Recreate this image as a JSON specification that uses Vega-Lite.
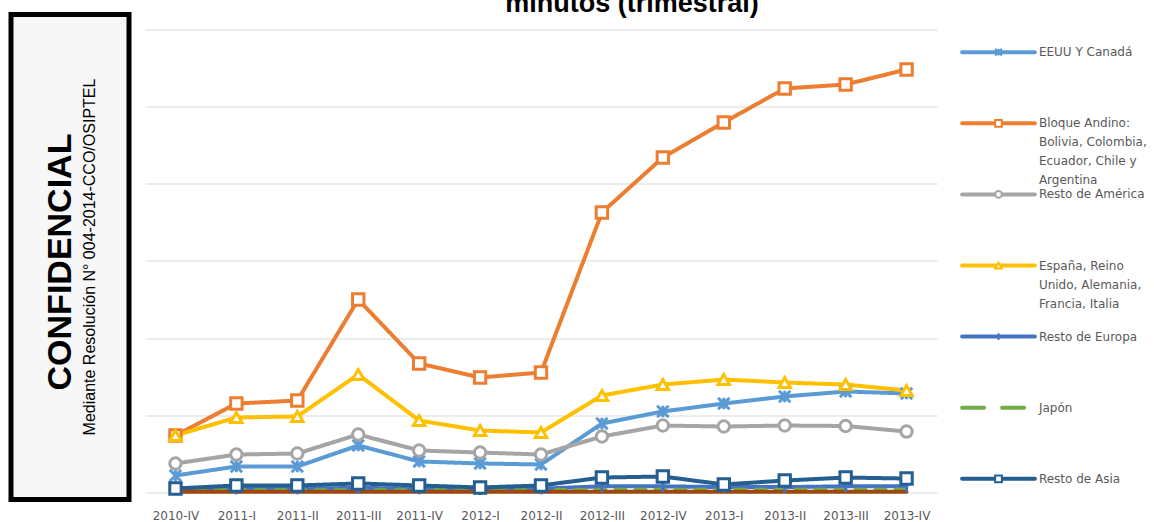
{
  "$schema": "https://vega.github.io/schema/vega-lite/v6.json",
  "background": "white",
  "padding": {"left": 8, "top": -10.5, "right": 0, "bottom": 0},
  "bounds": "flush",
  "spacing": 16,
  "config": {"view": {"stroke": null}, "font": "DejaVu Sans"},
  "resolve": {"scale": {"strokeDash": "independent", "size": "independent"}},
  "datasets": {
    "traffic": [
      {"q": "2010-IV", "serie": "EEUU Y Canadá", "v": 2.2},
      {"q": "2011-I", "serie": "EEUU Y Canadá", "v": 3.37},
      {"q": "2011-II", "serie": "EEUU Y Canadá", "v": 3.37},
      {"q": "2011-III", "serie": "EEUU Y Canadá", "v": 6.09},
      {"q": "2011-IV", "serie": "EEUU Y Canadá", "v": 4.02},
      {"q": "2012-I", "serie": "EEUU Y Canadá", "v": 3.76},
      {"q": "2012-II", "serie": "EEUU Y Canadá", "v": 3.63},
      {"q": "2012-III", "serie": "EEUU Y Canadá", "v": 8.94},
      {"q": "2012-IV", "serie": "EEUU Y Canadá", "v": 10.5},
      {"q": "2013-I", "serie": "EEUU Y Canadá", "v": 11.53},
      {"q": "2013-II", "serie": "EEUU Y Canadá", "v": 12.44},
      {"q": "2013-III", "serie": "EEUU Y Canadá", "v": 13.09},
      {"q": "2013-IV", "serie": "EEUU Y Canadá", "v": 12.83},
      {"q": "2010-IV", "serie": "Bloque Andino", "v": 7.39},
      {"q": "2011-I", "serie": "Bloque Andino", "v": 11.53},
      {"q": "2011-II", "serie": "Bloque Andino", "v": 11.92},
      {"q": "2011-III", "serie": "Bloque Andino", "v": 25.01},
      {"q": "2011-IV", "serie": "Bloque Andino", "v": 16.72},
      {"q": "2012-I", "serie": "Bloque Andino", "v": 14.9},
      {"q": "2012-II", "serie": "Bloque Andino", "v": 15.55},
      {"q": "2012-III", "serie": "Bloque Andino", "v": 36.28},
      {"q": "2012-IV", "serie": "Bloque Andino", "v": 43.41},
      {"q": "2013-I", "serie": "Bloque Andino", "v": 47.95},
      {"q": "2013-II", "serie": "Bloque Andino", "v": 52.35},
      {"q": "2013-III", "serie": "Bloque Andino", "v": 52.87},
      {"q": "2013-IV", "serie": "Bloque Andino", "v": 54.81},
      {"q": "2010-IV", "serie": "Resto de América", "v": 3.76},
      {"q": "2011-I", "serie": "Resto de América", "v": 4.92},
      {"q": "2011-II", "serie": "Resto de América", "v": 5.05},
      {"q": "2011-III", "serie": "Resto de América", "v": 7.52},
      {"q": "2011-IV", "serie": "Resto de América", "v": 5.44},
      {"q": "2012-I", "serie": "Resto de América", "v": 5.18},
      {"q": "2012-II", "serie": "Resto de América", "v": 4.92},
      {"q": "2012-III", "serie": "Resto de América", "v": 7.26},
      {"q": "2012-IV", "serie": "Resto de América", "v": 8.68},
      {"q": "2013-I", "serie": "Resto de América", "v": 8.55},
      {"q": "2013-II", "serie": "Resto de América", "v": 8.68},
      {"q": "2013-III", "serie": "Resto de América", "v": 8.62},
      {"q": "2013-IV", "serie": "Resto de América", "v": 7.9},
      {"q": "2010-IV", "serie": "España", "v": 7.39},
      {"q": "2011-I", "serie": "España", "v": 9.72},
      {"q": "2011-II", "serie": "España", "v": 9.85},
      {"q": "2011-III", "serie": "España", "v": 15.29},
      {"q": "2011-IV", "serie": "España", "v": 9.33},
      {"q": "2012-I", "serie": "España", "v": 8.03},
      {"q": "2012-II", "serie": "España", "v": 7.78},
      {"q": "2012-III", "serie": "España", "v": 12.57},
      {"q": "2012-IV", "serie": "España", "v": 13.99},
      {"q": "2013-I", "serie": "España", "v": 14.64},
      {"q": "2013-II", "serie": "España", "v": 14.25},
      {"q": "2013-III", "serie": "España", "v": 13.99},
      {"q": "2013-IV", "serie": "España", "v": 13.22},
      {"q": "2010-IV", "serie": "Resto de Europa", "v": 0.4},
      {"q": "2011-I", "serie": "Resto de Europa", "v": 0.5},
      {"q": "2011-II", "serie": "Resto de Europa", "v": 0.5},
      {"q": "2011-III", "serie": "Resto de Europa", "v": 0.6},
      {"q": "2011-IV", "serie": "Resto de Europa", "v": 0.5},
      {"q": "2012-I", "serie": "Resto de Europa", "v": 0.4},
      {"q": "2012-II", "serie": "Resto de Europa", "v": 0.5},
      {"q": "2012-III", "serie": "Resto de Europa", "v": 0.8},
      {"q": "2012-IV", "serie": "Resto de Europa", "v": 0.8},
      {"q": "2013-I", "serie": "Resto de Europa", "v": 0.7},
      {"q": "2013-II", "serie": "Resto de Europa", "v": 0.7},
      {"q": "2013-III", "serie": "Resto de Europa", "v": 0.8},
      {"q": "2013-IV", "serie": "Resto de Europa", "v": 0.8},
      {"q": "2010-IV", "serie": "Japón", "v": 0.3},
      {"q": "2011-I", "serie": "Japón", "v": 0.3},
      {"q": "2011-II", "serie": "Japón", "v": 0.3},
      {"q": "2011-III", "serie": "Japón", "v": 0.3},
      {"q": "2011-IV", "serie": "Japón", "v": 0.3},
      {"q": "2012-I", "serie": "Japón", "v": 0.3},
      {"q": "2012-II", "serie": "Japón", "v": 0.3},
      {"q": "2012-III", "serie": "Japón", "v": 0.35},
      {"q": "2012-IV", "serie": "Japón", "v": 0.35},
      {"q": "2013-I", "serie": "Japón", "v": 0.35},
      {"q": "2013-II", "serie": "Japón", "v": 0.35},
      {"q": "2013-III", "serie": "Japón", "v": 0.35},
      {"q": "2013-IV", "serie": "Japón", "v": 0.35},
      {"q": "2010-IV", "serie": "Resto de Asia", "v": 0.52},
      {"q": "2011-I", "serie": "Resto de Asia", "v": 0.91},
      {"q": "2011-II", "serie": "Resto de Asia", "v": 0.91},
      {"q": "2011-III", "serie": "Resto de Asia", "v": 1.17},
      {"q": "2011-IV", "serie": "Resto de Asia", "v": 0.91},
      {"q": "2012-I", "serie": "Resto de Asia", "v": 0.65},
      {"q": "2012-II", "serie": "Resto de Asia", "v": 0.91},
      {"q": "2012-III", "serie": "Resto de Asia", "v": 1.94},
      {"q": "2012-IV", "serie": "Resto de Asia", "v": 2.07},
      {"q": "2013-I", "serie": "Resto de Asia", "v": 1.04},
      {"q": "2013-II", "serie": "Resto de Asia", "v": 1.55},
      {"q": "2013-III", "serie": "Resto de Asia", "v": 1.94},
      {"q": "2013-IV", "serie": "Resto de Asia", "v": 1.81},
      {"q": "2010-IV", "serie": "Otros", "v": 0.1},
      {"q": "2011-I", "serie": "Otros", "v": 0.1},
      {"q": "2011-II", "serie": "Otros", "v": 0.1},
      {"q": "2011-III", "serie": "Otros", "v": 0.1},
      {"q": "2011-IV", "serie": "Otros", "v": 0.1},
      {"q": "2012-I", "serie": "Otros", "v": 0.1},
      {"q": "2012-II", "serie": "Otros", "v": 0.1},
      {"q": "2012-III", "serie": "Otros", "v": 0.1},
      {"q": "2012-IV", "serie": "Otros", "v": 0.1},
      {"q": "2013-I", "serie": "Otros", "v": 0.1},
      {"q": "2013-II", "serie": "Otros", "v": 0.1},
      {"q": "2013-III", "serie": "Otros", "v": 0.1},
      {"q": "2013-IV", "serie": "Otros", "v": 0.1}
    ],
    "leyenda": [
      {"serie": "EEUU Y Canadá", "label": "EEUU Y Canadá"},
      {"serie": "Bloque Andino", "label": "Bloque Andino:\nBolivia, Colombia,\nEcuador, Chile y\nArgentina"},
      {"serie": "Resto de América", "label": "Resto de América"},
      {"serie": "España", "label": "España, Reino\nUnido, Alemania,\nFrancia, Italia"},
      {"serie": "Resto de Europa", "label": "Resto de Europa"},
      {"serie": "Japón", "label": "Japón"},
      {"serie": "Resto de Asia", "label": "Resto de Asia"}
    ]
  },
  "hconcat": [
    {
      "width": 118,
      "height": 485,
      "view": {"fill": "#f7f7f7", "stroke": "#000000", "strokeWidth": 5},
      "data": {"values": [{"titulo": "CONFIDENCIAL", "nota": "Mediante Resolución N° 004-2014-CCO/OSIPTEL"}]},
      "layer": [
        {
          "mark": {"type": "text", "angle": 270, "font": "Liberation Sans", "fontSize": 34, "fontWeight": "bold", "color": "#000000", "align": "center", "baseline": "middle", "dx": -5, "dy": -9},
          "encoding": {"text": {"field": "titulo"}}
        },
        {
          "mark": {"type": "text", "angle": 270, "font": "Liberation Sans", "fontSize": 16, "color": "#000000", "align": "center", "baseline": "middle", "dx": 0, "dy": 20},
          "encoding": {"text": {"field": "nota"}}
        }
      ]
    },
    {
      "width": 792,
      "height": 485,
      "title": {"text": "minutos (trimestral)", "font": "Liberation Sans", "fontSize": 27, "fontWeight": "bold", "color": "#000000", "anchor": "middle", "baseline": "alphabetic", "offset": -24.5, "dx": 91},
      "data": {"name": "traffic"},
      "encoding": {
        "x": {"field": "q", "type": "ordinal", "sort": null, "scale": {"type": "point", "padding": 0.5},
          "axis": {"title": null, "domain": false, "ticks": false, "tickSize": 0, "grid": false, "labelAngle": 0, "labelPadding": 11, "labelBaseline": "top", "labelFont": "DejaVu Sans", "labelFontSize": 12, "labelColor": "#595959", "labelOverlap": false}},
        "y": {"field": "v", "type": "quantitative", "scale": {"domain": [-0.907, 61.94], "nice": false, "zero": false},
          "axis": {"title": null, "labels": false, "ticks": false, "domain": false, "values": [0, 10, 20, 30, 40, 50, 60], "grid": true, "gridColor": "#d9d9d9", "gridWidth": 1}}
      },
      "layer": [
        {
          "mark": {"type": "line", "strokeWidth": 4, "strokeCap": "round", "strokeJoin": "round"},
          "encoding": {
            "stroke": {"field": "serie", "type": "nominal", "legend": null,
              "scale": {"domain": ["EEUU Y Canadá", "Bloque Andino", "Resto de América", "España", "Resto de Europa", "Japón", "Resto de Asia", "Otros"],
                "range": ["#5b9bd5", "#ed7d31", "#a5a5a5", "#ffc000", "#4472c4", "#70ad47", "#255e91", "#9e480e"]}},
            "strokeDash": {"field": "serie", "type": "nominal", "legend": null,
              "scale": {"domain": ["EEUU Y Canadá", "Bloque Andino", "Resto de América", "España", "Resto de Europa", "Japón", "Resto de Asia", "Otros"],
                "range": [[1, 0], [1, 0], [1, 0], [1, 0], [1, 0], [10, 10], [1, 0], [1, 0]]}}
          }
        },
        {
          "transform": [{"filter": {"field": "serie", "oneOf": ["EEUU Y Canadá", "Bloque Andino", "Resto de América", "España", "Resto de Europa", "Resto de Asia"]}}],
          "mark": {"type": "point", "filled": false, "fill": "#ffffff", "fillOpacity": 1, "opacity": 1, "strokeWidth": 3, "size": 130},
          "encoding": {
            "stroke": {"field": "serie", "type": "nominal", "legend": null},
            "shape": {"field": "serie", "type": "nominal", "legend": null,
              "scale": {"domain": ["EEUU Y Canadá", "Bloque Andino", "Resto de América", "España", "Resto de Europa", "Resto de Asia"],
                "range": ["M-1,-1L1,1M-1,1L1,-1M0,-1L0,1", "square", "circle", "triangle-up", "M0,-1L0,1", "square"]}}
          }
        }
      ]
    },
    {
      "width": 91,
      "height": 502,
      "data": {"name": "leyenda"},
      "encoding": {
        "y": {"field": "serie", "type": "nominal", "sort": null, "scale": {"type": "point", "padding": 0.53}, "axis": null}
      },
      "layer": [
        {
          "mark": {"type": "rule", "strokeWidth": 4, "strokeCap": "round"},
          "encoding": {
            "x": {"datum": "s", "type": "ordinal", "scale": {"type": "point", "domain": ["s", "m", "e"], "padding": 0.25}, "axis": null},
            "x2": {"datum": "e"},
            "stroke": {"field": "serie", "type": "nominal", "legend": null},
            "strokeDash": {"field": "serie", "type": "nominal", "legend": null,
              "scale": {"domain": ["EEUU Y Canadá", "Bloque Andino", "Resto de América", "España", "Resto de Europa", "Japón", "Resto de Asia"],
                "range": [[1, 0], [1, 0], [1, 0], [1, 0], [1, 0], [22, 18], [1, 0]]}}
          }
        },
        {
          "transform": [{"filter": {"field": "serie", "oneOf": ["EEUU Y Canadá", "Bloque Andino", "Resto de América", "España", "Resto de Europa", "Resto de Asia"]}}],
          "mark": {"type": "point", "filled": false, "fill": "#ffffff", "fillOpacity": 1, "opacity": 1, "strokeWidth": 2, "size": 45},
          "encoding": {
            "x": {"datum": "m", "type": "ordinal"},
            "stroke": {"field": "serie", "type": "nominal", "legend": null},
            "shape": {"field": "serie", "type": "nominal", "legend": null}
          }
        },
        {
          "mark": {"type": "text", "align": "left", "baseline": "middle", "dx": 4, "lineBreak": "\n", "lineHeight": 19, "font": "DejaVu Sans", "fontSize": 12, "color": "#595959"},
          "encoding": {
            "x": {"datum": "e", "type": "ordinal"},
            "text": {"field": "label"}
          }
        }
      ]
    }
  ]
}
